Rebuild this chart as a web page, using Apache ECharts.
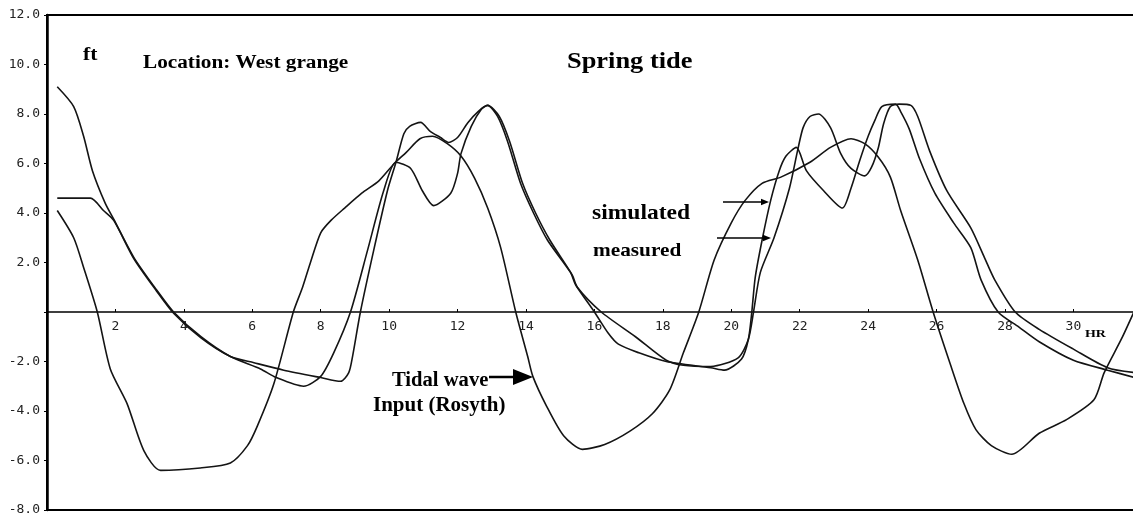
<!DOCTYPE html>
<html>
<head>
<meta charset="utf-8">
<title>Spring tide - West grange</title>
<script src="https://cdn.jsdelivr.net/npm/echarts@6/dist/echarts.min.js"></script>
<style>
	html, body { margin: 0; padding: 0; background: #fff; }
	#chart { width: 1133px; height: 521px; }
</style>
</head>
<body>
<div id="chart"></div>
<script>
// values (hours, feet)
var tideHour = [0.3, 0.78, 1.07, 1.47, 1.85, 2.34, 2.83, 3.32, 4.48, 5.36, 5.86, 6.15, 6.63, 7.2, 7.47, 7.7, 8.0, 8.3, 8.7, 9.2, 9.7, 10.15, 10.5, 10.9, 11.27, 11.7, 12.1, 12.5, 12.88, 13.26, 13.7, 14.05, 14.2, 14.6, 15.1, 15.65, 16.3, 17.05, 17.7, 18.2, 18.6, 19.05, 19.5, 20.0, 20.4, 20.9, 21.45, 22.3, 22.9, 23.5, 23.9, 24.3, 24.65, 24.95, 25.45, 25.9, 26.4, 26.8, 27.15, 27.6, 28.2, 29.0, 29.8, 30.6, 30.9, 31.4, 31.8];
var tideFt = [4.1, 3.0, 1.8, 0, -2.3, -3.7, -5.6, -6.4, -6.3, -6.1, -5.4, -4.6, -2.9, 0, 1.0, 2.0, 3.2, 3.7, 4.2, 4.8, 5.3, 6.0, 6.45, 7.0, 7.1, 6.8, 6.3, 5.4, 4.2, 2.6, 0, -1.8, -2.6, -3.8, -5.0, -5.55, -5.35, -4.8, -4.1, -3.15, -1.65, 0, 2.1, 3.6, 4.5, 5.2, 5.45, 6.05, 6.65, 7.0, 6.8, 6.25, 5.45, 4.1, 2.1, 0, -2.1, -3.7, -4.75, -5.4, -5.75, -4.9, -4.35, -3.55, -2.45, -1.1, 0.1];

var simHour = [0.3, 0.78, 1.07, 1.33, 1.7, 1.95, 2.54, 3.2, 3.7, 4.5, 5.36, 6.24, 6.7, 7.5, 8.0, 8.38, 8.87, 9.37, 9.84, 10.2, 10.63, 10.97, 11.3, 11.8, 12.0, 12.1, 12.4, 12.7, 12.88, 13.17, 13.46, 13.84, 14.22, 14.63, 15.3, 15.45, 16.0, 16.4, 16.7, 17.3, 18.1, 19.4, 19.8, 20.3, 20.5, 20.6, 20.7, 20.9, 21.15, 21.4, 21.6, 21.9, 22.2, 22.7, 23.25, 23.5, 23.75, 24.0, 24.2, 24.4, 24.8, 24.95, 25.2, 25.5, 25.95, 26.5, 27.0, 27.3, 27.8, 28.4, 29.0, 30.0, 31.0, 31.8];
var simFt = [9.1, 8.3, 7.1, 5.7, 4.4, 3.75, 2.2, 0.9, 0, -1.0, -1.8, -2.3, -2.65, -3.0, -2.6, -1.65, 0, 2.5, 4.9, 6.05, 5.8, 4.9, 4.3, 4.8, 5.6, 6.4, 7.5, 8.2, 8.35, 7.9, 6.9, 5.2, 4.0, 2.9, 1.6, 1.1, 0, -0.85, -1.3, -1.65, -2.0, -2.25, -2.35, -1.9, -1.1, 0, 1.4, 2.9, 4.5, 5.7, 6.3, 6.65, 5.7, 4.9, 4.2, 5.0, 6.1, 7.1, 7.75, 8.3, 8.4, 8.1, 7.4, 6.2, 4.8, 3.6, 2.6, 1.3, 0, -0.6, -1.2, -1.95, -2.35, -2.65];

var measHour = [0.3, 1.27, 1.65, 1.95, 2.54, 3.2, 3.7, 4.5, 5.36, 6.05, 6.92, 8.0, 8.58, 8.82, 8.93, 9.16, 9.55, 9.95, 10.2, 10.43, 10.6, 10.92, 11.2, 11.5, 11.74, 12.0, 12.3, 12.6, 12.88, 13.22, 13.52, 13.9, 14.28, 14.7, 15.35, 15.5, 16.2, 17.2, 18.1, 18.6, 19.4, 20.2, 20.5, 20.65, 20.85, 21.25, 21.7, 21.95, 22.1, 22.3, 22.55, 22.9, 23.2, 23.5, 23.9, 24.1, 24.3, 24.45, 24.65, 24.9, 25.25, 25.45, 25.8, 26.3, 27.0, 27.4, 27.7, 28.3, 29.0, 30.0, 31.0, 31.8];
var measFt = [4.6, 4.6, 4.1, 3.7, 2.15, 0.85, -0.05, -1.05, -1.8, -2.05, -2.35, -2.65, -2.8, -2.45, -1.8, 0, 2.5, 4.9, 6.05, 7.2, 7.5, 7.66, 7.3, 7.05, 6.85, 7.05, 7.65, 8.1, 8.35, 7.9, 6.9, 5.2, 4.0, 2.9, 1.5, 1.0, 0, -1.0, -1.95, -2.15, -2.2, -1.85, -1.1, 0, 1.6, 3.0, 5.0, 6.6, 7.45, 7.9, 8.0, 7.45, 6.4, 5.8, 5.5, 5.85, 6.65, 7.6, 8.3, 8.4, 8.35, 7.9, 6.5, 4.9, 3.4, 2.2, 1.3, 0, -0.7, -1.5, -2.25, -2.45];

var yTicks = [-8, -6, -4, -2, 0, 2, 4, 6, 8, 10, 12];
var xTicks = [2, 4, 6, 8, 10, 12, 14, 16, 18, 20, 22, 24, 26, 28, 30];

function pairs(hs, vs) {
	var out = [];
	for (var i = 0; i < hs.length; i++) {
		out.push([hs[i], vs[i]]);
	}
	return out;
}

var ink = '#141414';
var serif = '"Liberation Serif", "Times New Roman", serif';
var mono = '"DejaVu Sans Mono", monospace';

var gridTop = 15, gridBottom = 11, H = 521;
var yMin = yTicks[0], yMax = yTicks[yTicks.length - 1];
// the time axis sits on the zero line, so lift it up from the bottom edge
var zeroLift = (H - gridTop - gridBottom) * (0 - yMin) / (yMax - yMin);

function label(txt, x, y, size, sx) {  // scanned text is a bit stretched sideways
	return {
		type: 'text', x: x, y: y, scaleX: sx, z: 10,
		style: {
			text: txt, fill: '#000', font: 'bold ' + size + 'px ' + serif,
			textAlign: 'left', textVerticalAlign: 'middle'
		}
	};
}

function arrow(x1, x2, y, head, w) {
	return [
		{ type: 'line', z: 10, shape: { x1: x1, y1: y, x2: x2 - head, y2: y }, style: { stroke: '#000', lineWidth: w } },
		{ type: 'polygon', z: 10, shape: { points: [[x2 - head, y - head / 2.5], [x2, y], [x2 - head, y + head / 2.5]] }, style: { fill: '#000' } }
	];
}

function lineSeries(name, data, width) {
	return {
		name: name,
		type: 'line',
		data: data,
		smooth: 0.25,
		symbol: 'none',
		lineStyle: { color: ink, width: width },
		animation: false
	};
}

var chart = echarts.init(document.getElementById('chart'));

var option = {
	backgroundColor: '#fff',
	animation: false,
	grid: {
		left: 47, right: -2, top: gridTop, bottom: gridBottom,
		outerBoundsMode: 'none',
		containLabel: false,
		show: true, borderColor: '#000', borderWidth: 2
	},
	xAxis: {
		type: 'value',
		position: 'bottom',
		offset: -zeroLift,
		min: 0,
		max: 31.8,
		interval: 2,
		axisLine: { onZero: false, lineStyle: { color: '#000', width: 1.5 } },
		axisTick: { show: true, inside: true, length: 3, lineStyle: { color: '#000' } },
		axisLabel: {
			margin: 8,
			fontFamily: mono,
			fontSize: 13,
			color: '#222',
			formatter: function (v) {
				return xTicks.indexOf(v) >= 0 ? String(v) : '';
			}
		},
		splitLine: { show: false }
	},
	yAxis: {
		type: 'value',
		min: yMin,
		max: yMax,
		interval: 2,
		axisLine: { show: true, onZero: false, lineStyle: { color: '#000', width: 2.5 } },
		axisTick: { show: true, length: 3, lineStyle: { color: '#000' } },
		axisLabel: {
			margin: 7,
			fontFamily: mono,
			fontSize: 13,
			color: '#222',
			formatter: function (v) {
				return v === 0 ? '' : v.toFixed(1);
			}
		},
		splitLine: { show: false }
	},
	series: [
		lineSeries('Tidal wave Input (Rosyth)', pairs(tideHour, tideFt), 1.6),
		lineSeries('simulated', pairs(simHour, simFt), 1.6),
		lineSeries('measured', pairs(measHour, measFt), 1.6)
	],
	graphic: [
		label('ft', 83, 55, 18, 1.2),
		label('Location: West grange', 143, 63, 18, 1.18),
		label('Spring tide', 567, 62, 24, 1.1),
		label('simulated', 592, 213, 22, 1.07),
		label('measured', 593, 251, 19, 1.12),
		label('Tidal wave', 392, 381, 20, 1.03),
		label('Input (Rosyth)', 373, 406, 20, 1.05),
		label('HR', 1085, 334, 11, 1.27)
	]
		.concat(arrow(489, 533, 377, 20, 2.5))
		.concat(arrow(723, 769, 202, 8, 1.3))
		.concat(arrow(717, 771, 238, 8, 1.3))
};

chart.setOption(option);
</script>
</body>
</html>
